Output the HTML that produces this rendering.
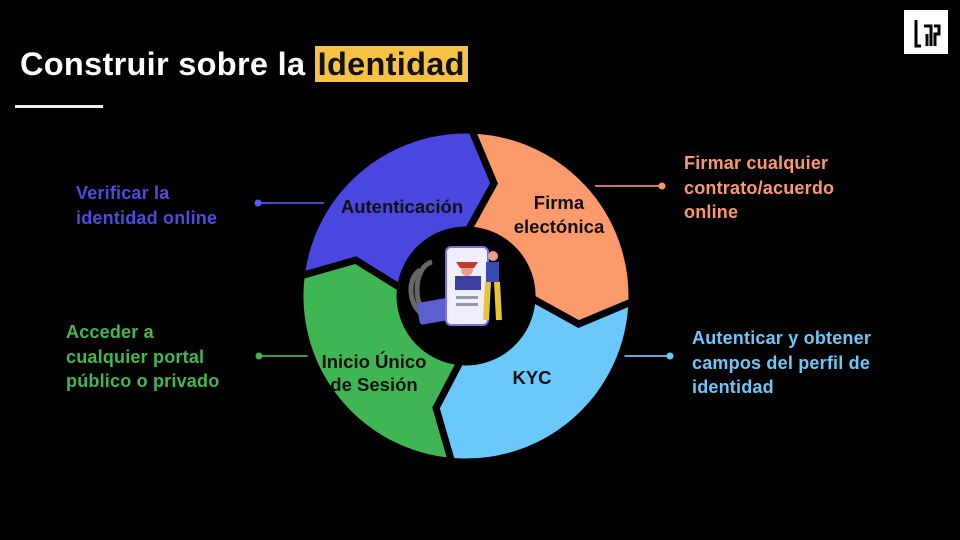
<!DOCTYPE html>
<html><head><meta charset="utf-8"><style>
body{margin:0;width:960px;height:540px;background:#000;overflow:hidden;position:relative;font-family:"Liberation Sans","DejaVu Sans",sans-serif;font-weight:bold}
.t{position:absolute;font-size:18px;line-height:24.5px;white-space:nowrap;letter-spacing:0.2px}
</style></head><body>
<div style="position:absolute;left:20px;top:43px;font-size:32.5px;color:#fff;line-height:42px;letter-spacing:0.3px">Construir sobre la <span style="background:#f6c244;color:#111;padding:0 3px">Identidad</span></div>
<div style="position:absolute;left:15px;top:105px;width:88px;height:3px;background:#eee"></div>
<div style="position:absolute;left:904px;top:10px;width:44px;height:44px;background:#fff"></div>
<svg style="position:absolute;left:904px;top:10px" width="44" height="44"><g fill="none" stroke="#000" stroke-width="3"><path d="M12 10V36H17"/><path d="M20 16H27V36"/><path d="M23 24V36"/><path d="M30 16H35V24H31V36"/></g></svg>

<svg width="960" height="540" style="position:absolute;left:0;top:0" id="s">
<g stroke-width="2">
<line x1="258" y1="203" x2="345" y2="203" stroke="#4b47d6"/><circle cx="258" cy="203" r="3.5" fill="#5a56ee"/>
<line x1="588" y1="186" x2="662" y2="186" stroke="#c9785a"/><circle cx="662" cy="186" r="3.5" fill="#fc9a6c"/>
<line x1="259" y1="356" x2="310" y2="356" stroke="#3a9a48"/><circle cx="259" cy="356" r="3.5" fill="#3fb653"/>
<line x1="620" y1="356" x2="670" y2="356" stroke="#5aa8d5"/><circle cx="670" cy="356" r="3.5" fill="#6ac8fa"/>
</g>
<g id="segs"></g>
<circle cx="466" cy="296" r="66" fill="#000"/>
<g>
<path d="M420 270c-15 10-10 40 5 45M432 262c-20 5-20 50 0 55" stroke="#666" stroke-width="5" fill="none"/>
<rect x="418" y="300" width="36" height="22" rx="3" fill="#5b5fd0" transform="rotate(-10 436 311)"/>
<rect x="446" y="247" width="42" height="78" rx="5" fill="#eef" stroke="#7a6fe0" stroke-width="2"/>
<rect x="455" y="276" width="26" height="14" fill="#3a3fa0"/><circle cx="467" cy="270" r="6" fill="#e8a08a"/><path d="M456 262h22l-4 6h-14z" fill="#c0392b"/>
<rect x="456" y="296" width="22" height="3" fill="#99a"/><rect x="456" y="303" width="22" height="3" fill="#99a"/>
<circle cx="493" cy="256" r="5" fill="#e8a08a"/><rect x="486" y="262" width="13" height="20" fill="#3a4ab0"/>
<path d="M488 282l-2 38M497 282l2 38" stroke="#e5c53a" stroke-width="6"/>
</g>
<g fill="#111" font-size="18.5" font-family="Liberation Sans,sans-serif" font-weight="bold" text-anchor="middle">
<text x="402" y="213">Autenticación</text>
<text x="559" y="209">Firma</text><text x="559" y="233">electónica</text>
<text x="374" y="368">Inicio Único</text><text x="374" y="391">de Sesión</text>
<text x="532" y="384">KYC</text>
</g>
</svg>
<script>
var cx=466,cy=296,R=166,r=66,m=(R+r)/2;
function p(a,rad){a=a*Math.PI/180;return (cx+rad*Math.cos(a)).toFixed(1)+","+(cy+rad*Math.sin(a)).toFixed(1);}
var b=[[-88,12],[2,12],[95,10],[187,11]],cols=["#4a46e0","#fc9a6c","#6ac8fa","#3fb653"];
var segs=[[3,0],[0,1],[1,2],[2,3]],h="";
for(var i=0;i<4;i++){var s=b[segs[i][0]],e=b[segs[i][1]];var a1=s[0],a2=e[0];if(a2<a1)a2+=360;
var d="M"+p(a1,R)+" A"+R+","+R+" 0 0 1 "+p(a2,R)+" L"+p(a2+e[1],m)+" L"+p(a2,r)+" A"+r+","+r+" 0 0 0 "+p(a1,r)+" L"+p(a1+s[1],m)+"Z";
h+='<path d="'+d+'" fill="'+cols[i]+'" stroke="#000" stroke-width="7" stroke-linejoin="miter"/>';}
document.getElementById("segs").innerHTML=h;
</script>
<div class="t" style="left:76px;top:181px;color:#4f4be0">Verificar la<br>identidad online</div>
<div class="t" style="left:684px;top:151px;color:#fc9a6c">Firmar cualquier<br>contrato/acuerdo<br>online</div>
<div class="t" style="left:66px;top:320px;color:#42b84f">Acceder a<br>cualquier portal<br>público o privado</div>
<div class="t" style="left:692px;top:326px;color:#6ac8fa">Autenticar y obtener<br>campos del perfil de<br>identidad</div>
</body></html>
